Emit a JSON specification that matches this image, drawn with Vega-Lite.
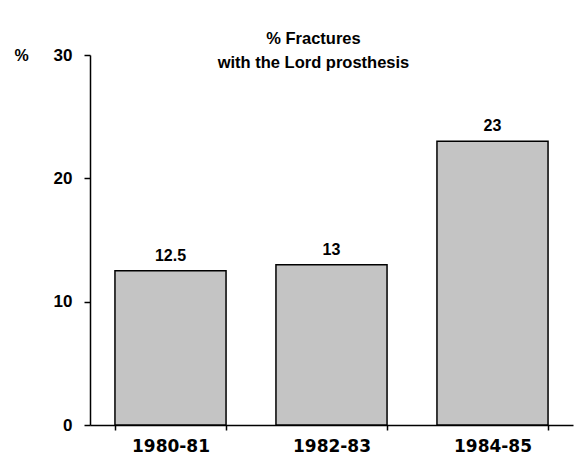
{
  "$schema": "https://vega.github.io/schema/vega-lite/v6.json",
  "width": 483,
  "height": 370,
  "autosize": "none",
  "padding": {"left": 90, "top": 55, "right": 4, "bottom": 38},
  "background": "white",
  "config": {"view": {"stroke": null}, "font": "Liberation Sans"},
  "title": {
    "text": ["% Fractures", "with the Lord prosthesis"],
    "anchor": "middle",
    "frame": "group",
    "dx": -18,
    "fontSize": 16.5,
    "fontWeight": "bold",
    "font": "Liberation Sans",
    "lineHeight": 24,
    "baseline": "top",
    "offset": -25
  },
  "data": {
    "values": [
      {"period": "1980-81", "pct": 12.5, "label": "12.5"},
      {"period": "1982-83", "pct": 13, "label": "13"},
      {"period": "1984-85", "pct": 23, "label": "23"}
    ]
  },
  "encoding": {
    "x": {
      "field": "period",
      "type": "nominal",
      "sort": null,
      "scale": {"paddingInner": 0.31, "paddingOuter": 0.155},
      "axis": {
        "title": null,
        "labelAngle": 0,
        "labelFontSize": 17,
        "labelFontWeight": "bold",
        "labelFont": "DejaVu Sans",
        "labelColor": "black",
        "labelPadding": 8,
        "tickBand": "extent",
        "tickSize": 5,
        "tickColor": "black",
        "domainColor": "black",
        "domainWidth": 1.5,
        "tickWidth": 1.5
      }
    },
    "y": {
      "field": "pct",
      "type": "quantitative",
      "scale": {"domain": [0, 30]},
      "axis": {
        "title": "%",
        "titleAngle": 0,
        "titleX": -76,
        "titleY": 0,
        "titleAlign": "left",
        "titleBaseline": "middle",
        "titleFontSize": 16,
        "titleFontWeight": "bold",
        "values": [0, 10, 20, 30],
        "grid": false,
        "labelFontSize": 17,
        "labelFontWeight": "bold",
        "labelColor": "black",
        "labelPadding": 12,
        "tickSize": 6,
        "tickColor": "black",
        "tickWidth": 1.5,
        "domainColor": "black",
        "domainWidth": 1.5
      }
    }
  },
  "layer": [
    {
      "mark": {"type": "bar", "fill": "#c4c4c4", "stroke": "black", "strokeWidth": 1.5}
    },
    {
      "mark": {"type": "text", "baseline": "bottom", "dy": -7, "fontSize": 16, "fontWeight": "bold", "color": "black"},
      "encoding": {"text": {"field": "label"}}
    }
  ]
}
